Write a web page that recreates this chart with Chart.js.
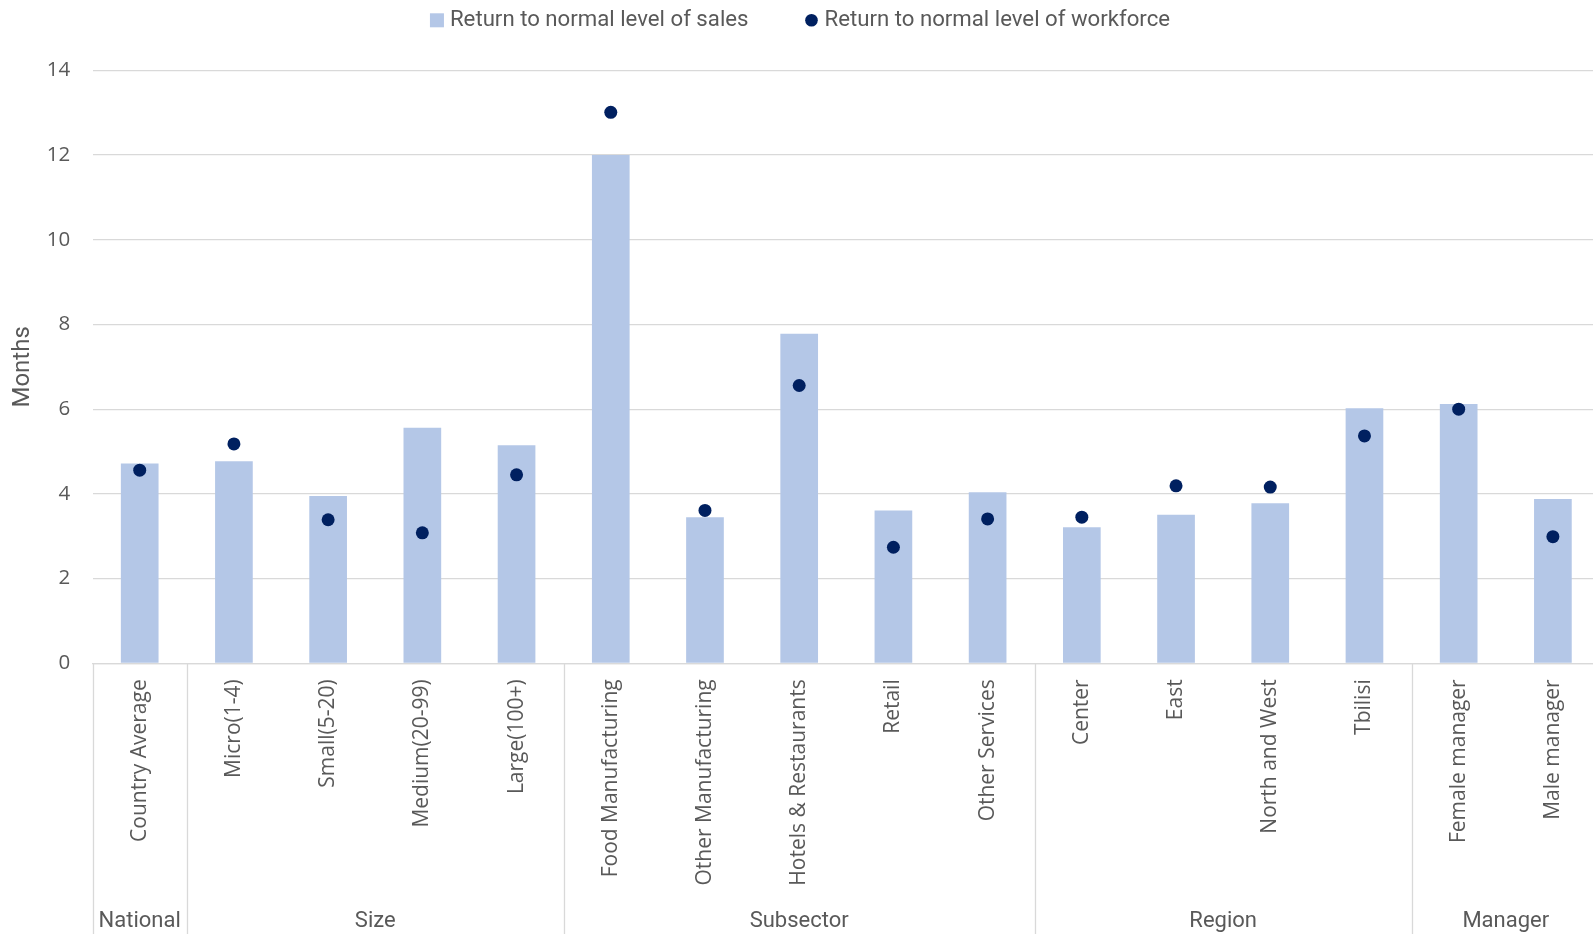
<!DOCTYPE html>
<html>
<head>
<meta charset="utf-8">
<title>Months to return to normal</title>
<script src="https://cdn.jsdelivr.net/npm/chart.js@4.4.1/dist/chart.umd.min.js"></script>
<style>
  html, body { margin: 0; padding: 0; background: #ffffff; overflow: hidden; }
  #wrap { position: absolute; left: 0; top: 0; width: 1600px; height: 934px; }
</style>
</head>
<body>
<div id="wrap"><canvas id="chart"></canvas></div>
<script>
// Categories along the x axis
const categories = [
  'Country Average',
  'Micro(1-4)', 'Small(5-20)', 'Medium(20-99)', 'Large(100+)',
  'Food Manufacturing', 'Other Manufacturing', 'Hotels & Restaurants', 'Retail', 'Other Services',
  'Center', 'East', 'North and West', 'Tbilisi',
  'Female manager', 'Male manager'
];

// Outer grouping of the categories (name and how many categories each covers)
const groupNames = ['National', 'Size', 'Subsector', 'Region', 'Manager'];
const groupSizes = [1, 4, 5, 4, 2];

// Months until firms expect a return to normal
const salesMonths = [4.72, 4.77, 3.95, 5.56, 5.15, 12.0, 3.45, 7.78, 3.61, 4.04, 3.21, 3.51, 3.78, 6.02, 6.12, 3.88];
const workforceMonths = [4.56, 5.18, 3.39, 3.08, 4.45, 13.01, 3.61, 6.56, 2.74, 3.41, 3.45, 4.19, 4.16, 5.37, 6.00, 2.99];

// Value axis
const yMin = 0;
const yMax = 14;
const yStep = 2;

const seriesNames = ['Return to normal level of sales', 'Return to normal level of workforce'];

const TEXT = '#595959';
const GRID = '#D9D9D9';
const BAR = '#B4C7E7';
const DOT = '#002060';

// Legend drawn across the top, one square swatch and one round swatch
const topLegend = {
  id: 'topLegend',
  afterDraw(chart) {
    const ctx = chart.ctx;
    ctx.save();
    ctx.font = '22.2px Roboto';
    ctx.textBaseline = 'middle';
    ctx.textAlign = 'left';
    const sw = 14, gapText = 6, gapItem = 56;
    const items = chart.data.datasets.map(ds => ({
      label: ds.label,
      color: ds.backgroundColor,
      shape: ds.type === 'line' ? 'circle' : 'square',
      w: ctx.measureText(ds.label).width
    }));
    const total = items.reduce((s, it) => s + sw + gapText + it.w, 0) + gapItem * (items.length - 1);
    let x = chart.width / 2 - total / 2;
    const y = 20.3;
    items.forEach(it => {
      ctx.fillStyle = it.color;
      if (it.shape === 'square') {
        ctx.fillRect(x, y - sw / 2, sw, sw);
      } else {
        ctx.beginPath();
        ctx.arc(x + sw / 2, y, 6.3, 0, Math.PI * 2);
        ctx.fill();
      }
      ctx.fillStyle = TEXT;
      ctx.fillText(it.label, x + sw + gapText, y);
      x += sw + gapText + it.w + gapItem;
    });
    ctx.restore();
  }
};

// Group separators and group names under the category labels
const groupAxis = {
  id: 'groupAxis',
  afterDraw(chart) {
    const xs = chart.scales.x;
    const ctx = chart.ctx;
    const top = chart.chartArea.bottom;
    const bottom = chart.height;
    ctx.save();
    ctx.strokeStyle = GRID;
    ctx.lineWidth = 1.3;
    let start = 0;
    const bounds = [start - 0.5];
    groupSizes.forEach(n => { start += n; bounds.push(start - 0.5); });
    bounds.forEach(b => {
      const px = Math.round(xs.getPixelForValue(b)) + 0.5;
      ctx.beginPath();
      ctx.moveTo(px, top);
      ctx.lineTo(px, bottom);
      ctx.stroke();
    });
    ctx.fillStyle = TEXT;
    ctx.font = '22px Roboto';
    ctx.textAlign = 'center';
    ctx.textBaseline = 'middle';
    groupNames.forEach((name, i) => {
      const cx = (xs.getPixelForValue(bounds[i]) + xs.getPixelForValue(bounds[i + 1])) / 2;
      ctx.fillText(name, cx, 921);
    });
    ctx.restore();
  }
};

new Chart(document.getElementById('chart'), {
  data: {
    labels: categories,
    datasets: [
      {
        type: 'bar',
        label: seriesNames[0],
        data: salesMonths,
        backgroundColor: BAR,
        borderWidth: 0,
        categoryPercentage: 1,
        barPercentage: 0.4,
        order: 2
      },
      {
        type: 'line',
        label: seriesNames[1],
        data: workforceMonths,
        showLine: false,
        backgroundColor: DOT,
        borderColor: DOT,
        borderWidth: 0,
        pointRadius: 6.5,
        pointHoverRadius: 6.5,
        pointBorderWidth: 0,
        order: 1
      }
    ]
  },
  options: {
    responsive: true,
    maintainAspectRatio: false,
    animation: false,
    layout: { autoPadding: false, padding: { top: 70.4, left: 0, right: 0, bottom: 0 } },
    plugins: {
      legend: { display: false },
      tooltip: { enabled: false }
    },
    scales: {
      x: {
        type: 'category',
        offset: true,
        grid: { display: false, drawTicks: false },
        border: { display: true, color: GRID, width: 1.3 },
        ticks: {
          autoSkip: false,
          minRotation: 90,
          maxRotation: 90,
          padding: 16,
          color: TEXT,
          font: { family: 'Open Sans', size: 21 }
        },
        afterFit(scale) {
          scale.height = 270.7;
          scale.paddingLeft = 0;
          scale.paddingRight = 0;
        }
      },
      y: {
        min: yMin,
        max: yMax,
        ticks: {
          stepSize: yStep,
          padding: 22.5,
          color: TEXT,
          font: { family: 'Open Sans', size: 20.5 }
        },
        grid: { color: GRID, lineWidth: 1.3, drawTicks: false },
        border: { display: false },
        title: {
          display: true,
          text: 'Months',
          color: TEXT,
          font: { family: 'Roboto', size: 24, lineHeight: 1.2 },
          padding: { top: 9, bottom: 0 }
        },
        afterFit(scale) { scale.width = 92.6; }
      }
    }
  },
  plugins: [topLegend, groupAxis]
});
</script>
</body>
</html>
